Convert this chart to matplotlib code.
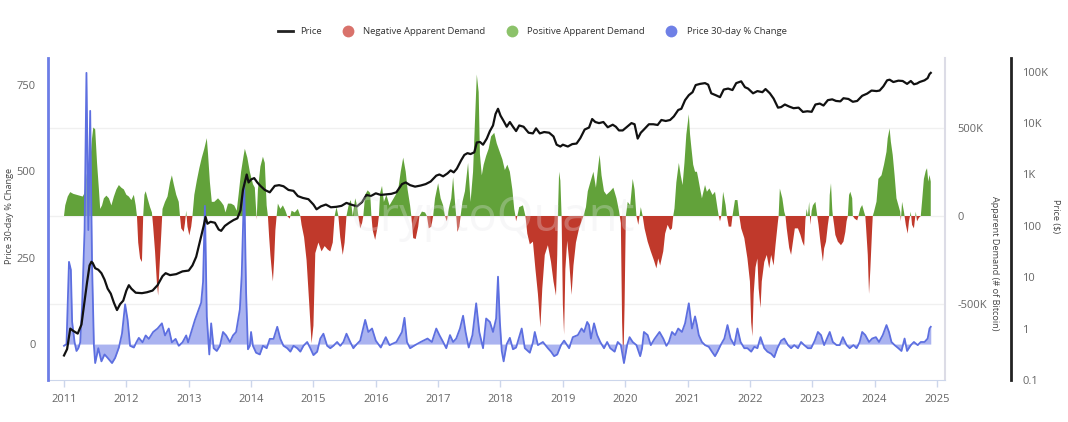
import matplotlib
matplotlib.use("Agg")
import matplotlib.pyplot as plt
from matplotlib.lines import Line2D
import numpy as np

plt.rcParams['font.family'] = ['Open Sans', 'DejaVu Sans']

# ---------------- data (decimal years) ----------------
price_years = [2011.00, 2011.05, 2011.10, 2011.15, 2011.22, 2011.28, 2011.33, 2011.37, 2011.41, 2011.44,
               2011.46, 2011.50, 2011.55, 2011.60, 2011.65, 2011.70, 2011.75, 2011.80, 2011.85, 2011.90,
               2011.95, 2012.00, 2012.04, 2012.08, 2012.15, 2012.25, 2012.33, 2012.42, 2012.50, 2012.58,
               2012.63, 2012.70, 2012.80, 2012.90, 2013.00, 2013.06, 2013.12, 2013.18, 2013.24, 2013.27,
               2013.30, 2013.35, 2013.42, 2013.48, 2013.52, 2013.58, 2013.65, 2013.72, 2013.78, 2013.83,
               2013.87, 2013.93, 2013.96, 2014.00, 2014.05, 2014.10, 2014.15, 2014.22, 2014.30, 2014.38,
               2014.45, 2014.52, 2014.60, 2014.68, 2014.75, 2014.83, 2014.92, 2015.00, 2015.05, 2015.12,
               2015.20, 2015.28, 2015.37, 2015.45, 2015.53, 2015.60, 2015.70, 2015.78, 2015.85, 2015.92,
               2016.00, 2016.08, 2016.17, 2016.25, 2016.33, 2016.42, 2016.48, 2016.55, 2016.63, 2016.72,
               2016.80, 2016.88, 2016.97, 2017.02, 2017.08, 2017.15, 2017.20, 2017.25, 2017.30, 2017.37,
               2017.42, 2017.47, 2017.52, 2017.58, 2017.62, 2017.67, 2017.72, 2017.78, 2017.83, 2017.88,
               2017.92, 2017.96, 2018.00, 2018.05, 2018.10, 2018.15, 2018.20, 2018.25, 2018.30, 2018.37,
               2018.45, 2018.52, 2018.57, 2018.63, 2018.70, 2018.78, 2018.85, 2018.90, 2018.96, 2019.00,
               2019.08, 2019.15, 2019.22, 2019.28, 2019.35, 2019.42, 2019.47, 2019.52, 2019.58, 2019.65,
               2019.72, 2019.80, 2019.85, 2019.90, 2019.96, 2020.03, 2020.10, 2020.15, 2020.20, 2020.25,
               2020.30, 2020.38, 2020.45, 2020.52, 2020.58, 2020.65, 2020.72, 2020.78, 2020.85, 2020.90,
               2020.96, 2021.02, 2021.08, 2021.13, 2021.20, 2021.28, 2021.33, 2021.38, 2021.45, 2021.52,
               2021.58, 2021.65, 2021.72, 2021.78, 2021.86, 2021.92, 2021.97, 2022.05, 2022.12, 2022.20,
               2022.25, 2022.32, 2022.38, 2022.45, 2022.50, 2022.56, 2022.63, 2022.70, 2022.78, 2022.85,
               2022.92, 2022.99, 2023.05, 2023.12, 2023.18, 2023.25, 2023.32, 2023.38, 2023.45, 2023.50,
               2023.58, 2023.65, 2023.72, 2023.80, 2023.88, 2023.95, 2024.03, 2024.08, 2024.14, 2024.20,
               2024.24, 2024.30, 2024.38, 2024.45, 2024.52, 2024.58, 2024.63, 2024.68, 2024.72, 2024.80,
               2024.85, 2024.88, 2024.90]
price_values = [0.30, 0.40, 1.0, 0.9, 0.8, 1.2, 3.5, 8.0, 17, 20,
                19, 15, 14, 12, 9, 6, 4.8, 3.2, 2.3, 3.0,
                3.5, 5.5, 7.0, 6.0, 5.0, 4.9, 5.1, 5.5, 7.0, 10.5,
                12, 11, 11.5, 13, 13.5, 17, 25, 50, 100, 150,
                110, 120, 115, 85, 80, 100, 115, 130, 140, 200,
                500, 1000, 700, 800, 850, 700, 600, 500, 450, 600,
                620, 590, 500, 480, 380, 350, 330, 260, 210, 240,
                260, 230, 235, 245, 280, 260, 240, 290, 400, 380,
                430, 400, 410, 420, 450, 650, 700, 620, 580, 610,
                650, 730, 950, 1000, 920, 1050, 1200, 1100, 1300, 1900,
                2400, 2600, 2500, 2700, 4200, 4300, 3800, 5000, 7000, 9000,
                15000, 19000, 14000, 11000, 8500, 10500, 8500, 7000, 9000, 8500,
                6500, 6300, 7900, 6300, 6700, 6500, 5500, 3800, 3500, 3800,
                3500, 3900, 4000, 5100, 7500, 8200, 12000, 10500, 10000, 10500,
                8300, 9300, 8500, 7200, 7200, 8500, 10000, 9500, 5000, 6500,
                7500, 9500, 9500, 9200, 11500, 11000, 11500, 13500, 18000, 19000,
                28000, 35000, 40000, 55000, 58000, 60000, 56000, 38000, 35000, 32000,
                45000, 47000, 44000, 60000, 65000, 50000, 47000, 38000, 42000, 40000,
                46000, 38000, 30000, 20000, 20500, 23000, 21000, 19500, 20000, 16500,
                17000, 16600, 23000, 24000, 22000, 28000, 29000, 27000, 26500, 30500,
                29500, 26000, 27000, 34000, 37500, 43000, 42000, 43000, 52000, 68000,
                70000, 63000, 67000, 66000, 58000, 66000, 57000, 59000, 63000, 68000,
                75000, 90000, 95000]

demand_years = [2011.00, 2011.02, 2011.06, 2011.10, 2011.15, 2011.20, 2011.25, 2011.30, 2011.33, 2011.36,
                2011.39, 2011.42, 2011.45, 2011.47, 2011.50, 2011.53, 2011.56, 2011.58, 2011.61, 2011.64,
                2011.68, 2011.72, 2011.76, 2011.80, 2011.84, 2011.88, 2011.92, 2011.96, 2012.00, 2012.04,
                2012.08, 2012.12, 2012.15, 2012.17, 2012.19, 2012.22, 2012.25, 2012.27, 2012.29, 2012.31,
                2012.34, 2012.38, 2012.41, 2012.43, 2012.46, 2012.49, 2012.51, 2012.53, 2012.56, 2012.58,
                2012.62, 2012.66, 2012.70, 2012.73, 2012.76, 2012.80, 2012.84, 2012.86, 2012.88, 2012.92,
                2012.94, 2012.96, 2012.98, 2013.01, 2013.04, 2013.06, 2013.09, 2013.13, 2013.17, 2013.21,
                2013.25, 2013.29, 2013.31, 2013.34, 2013.37, 2013.41, 2013.47, 2013.52, 2013.56, 2013.59,
                2013.63, 2013.68, 2013.73, 2013.77, 2013.80, 2013.84, 2013.88, 2013.90, 2013.94, 2013.98,
                2014.03, 2014.06, 2014.09, 2014.11, 2014.15, 2014.19, 2014.22, 2014.25, 2014.27, 2014.29,
                2014.31, 2014.33, 2014.35, 2014.37, 2014.39, 2014.41, 2014.43, 2014.47, 2014.51, 2014.55,
                2014.58, 2014.62, 2014.65, 2014.70, 2014.75, 2014.79, 2014.81, 2014.85, 2014.89, 2014.93,
                2014.97, 2015.00, 2015.03, 2015.08, 2015.13, 2015.18, 2015.23, 2015.27, 2015.31, 2015.34,
                2015.37, 2015.40, 2015.43, 2015.47, 2015.50, 2015.53, 2015.57, 2015.60, 2015.63, 2015.67,
                2015.70, 2015.72, 2015.75, 2015.78, 2015.80, 2015.83, 2015.87, 2015.91, 2015.93, 2015.95,
                2015.99, 2016.03, 2016.05, 2016.07, 2016.10, 2016.13, 2016.17, 2016.22, 2016.27, 2016.32,
                2016.36, 2016.40, 2016.44, 2016.48, 2016.51, 2016.55, 2016.57, 2016.60, 2016.64, 2016.68,
                2016.70, 2016.74, 2016.79, 2016.82, 2016.85, 2016.89, 2016.92, 2016.95, 2017.00, 2017.04,
                2017.08, 2017.11, 2017.14, 2017.17, 2017.21, 2017.24, 2017.27, 2017.29, 2017.31, 2017.34,
                2017.36, 2017.39, 2017.43, 2017.48, 2017.52, 2017.56, 2017.59, 2017.62, 2017.65, 2017.67,
                2017.70, 2017.73, 2017.77, 2017.81, 2017.85, 2017.90, 2017.94, 2017.98, 2018.03, 2018.07,
                2018.11, 2018.15, 2018.19, 2018.22, 2018.24, 2018.25, 2018.27, 2018.30, 2018.36, 2018.40,
                2018.43, 2018.47, 2018.52, 2018.56, 2018.60, 2018.64, 2018.67, 2018.71, 2018.76, 2018.81,
                2018.85, 2018.89, 2018.91, 2018.92, 2018.94, 2018.96, 2018.98, 2019.00, 2019.02, 2019.04,
                2019.07, 2019.10, 2019.14, 2019.17, 2019.21, 2019.26, 2019.30, 2019.33, 2019.37, 2019.40,
                2019.44, 2019.49, 2019.53, 2019.57, 2019.59, 2019.62, 2019.66, 2019.70, 2019.76, 2019.81,
                2019.86, 2019.90, 2019.93, 2019.95, 2019.97, 2019.99, 2020.01, 2020.04, 2020.08, 2020.12,
                2020.15, 2020.18, 2020.21, 2020.23, 2020.25, 2020.28, 2020.31, 2020.36, 2020.41, 2020.46,
                2020.50, 2020.53, 2020.56, 2020.61, 2020.64, 2020.68, 2020.72, 2020.75, 2020.77, 2020.79,
                2020.82, 2020.86, 2020.89, 2020.92, 2020.95, 2020.98, 2021.02, 2021.04, 2021.06, 2021.09,
                2021.12, 2021.15, 2021.17, 2021.20, 2021.23, 2021.28, 2021.31, 2021.35, 2021.40, 2021.44,
                2021.48, 2021.50, 2021.52, 2021.54, 2021.57, 2021.61, 2021.63, 2021.66, 2021.70, 2021.72,
                2021.76, 2021.80, 2021.83, 2021.86, 2021.91, 2021.96, 2022.00, 2022.02, 2022.04, 2022.06,
                2022.09, 2022.12, 2022.14, 2022.17, 2022.19, 2022.23, 2022.27, 2022.31, 2022.34, 2022.38,
                2022.41, 2022.45, 2022.46, 2022.48, 2022.52, 2022.55, 2022.57, 2022.59, 2022.63, 2022.66,
                2022.69, 2022.72, 2022.77, 2022.81, 2022.84, 2022.87, 2022.89, 2022.91, 2022.93, 2022.95,
                2022.97, 2022.99, 2023.01, 2023.05, 2023.08, 2023.10, 2023.13, 2023.17, 2023.19, 2023.22,
                2023.25, 2023.27, 2023.28, 2023.30, 2023.32, 2023.33, 2023.35, 2023.37, 2023.41, 2023.46,
                2023.50, 2023.53, 2023.55, 2023.57, 2023.59, 2023.61, 2023.64, 2023.65, 2023.68, 2023.72,
                2023.74, 2023.77, 2023.80, 2023.83, 2023.85, 2023.86, 2023.89, 2023.91, 2023.93, 2023.96,
                2023.97, 2023.99, 2024.03, 2024.06, 2024.11, 2024.15, 2024.19, 2024.21, 2024.24, 2024.26,
                2024.29, 2024.32, 2024.35, 2024.38, 2024.41, 2024.42, 2024.44, 2024.47, 2024.50, 2024.53,
                2024.55, 2024.58, 2024.60, 2024.63, 2024.66, 2024.68, 2024.71, 2024.74, 2024.76, 2024.79,
                2024.82, 2024.84, 2024.86, 2024.88, 2024.90]
demand_values = [0, 60, 110, 135, 125, 120, 115, 110, 130, 230,
                 270, 300, 440, 500, 490, 300, 150, 40, 60, 100,
                 115, 100, 60, 110, 150, 175, 160, 150, 120, 110,
                 90, 120, 60, 0, -150, -240, -260, 0, 120, 140,
                 100, 50, 20, -60, -200, -380, -450, -300, -100, 40,
                 80, 110, 190, 230, 180, 120, 80, 0, -70, -90,
                 -40, 30, -60, -110, -60, 0, 120, 200, 270, 330,
                 380, 440, 350, 190, 80, 80, 100, 80, 60, 20,
                 70, 70, 60, 30, 120, 250, 340, 380, 330, 250,
                 180, 160, -20, 150, 280, 335, 300, 60, 0, -120,
                 -220, -300, -370, -250, -80, 0, 70, 40, 60, 30,
                 0, -15, 30, 20, 40, 0, -50, -120, -250, -480,
                 -720, -620, -210, -150, -200, -170, -190, -200, -150, 0,
                 50, 0, -120, -220, -150, 0, 70, 90, 0, 100,
                 60, 0, -70, -40, 0, 120, 145, 130, 0, -80,
                 -135, -60, 0, 130, 170, 80, 120, 60, 90, 120,
                 150, 250, 330, 250, 150, 60, 0, -125, -130, -60,
                 0, 25, 20, 0, -70, -60, 0, 100, 185, 100,
                 60, 0, -30, 40, 100, 220, 80, 0, -90, -60,
                 0, 80, 140, 300, 80, 250, 530, 800, 700, 350,
                 230, 290, 340, 380, 450, 470, 410, 370, 320, 260,
                 290, 250, 150, 40, 0, -30, 0, 50, 60, 0,
                 -100, -160, -145, -300, -440, -630, -410, -220, -165, -260,
                 -370, -450, -220, 0, 250, 200, 0, -500, -670, -300,
                 -140, -250, -446, -280, -150, -70, -30, 0, 50, 140,
                 190, 250, 160, 290, 345, 230, 140, 120, 140, 160,
                 100, 30, -40, -600, -840, -500, 0, 80, 60, 210,
                 150, 0, -50, 0, 50, 0, -70, -145, -200, -250,
                 -296, -240, -280, -200, -100, -50, -80, -70, 0, 43,
                 190, 300, 230, 175, 300, 460, 575, 460, 390, 290,
                 250, 250, 215, 156, 100, 175, 137, 156, 119, 137,
                 43, 0, -30, 0, 137, 62, 0, -60, -60, 0,
                 90, 90, 0, -70, -125, -240, -370, -600, -680, -440,
                 -290, -240, -410, -520, -370, -260, -220, -296, -220, -280,
                 -165, -30, 0, 155, 100, 25, 0, -70, -180, -220,
                 -145, -70, -70, -107, -145, -170, -20, 40, 0, 80,
                 -50, 30, 60, 80, 0, -50, -145, -258, -183, -145,
                 -50, 0, 119, 185, 40, 0, -50, -107, -145, -165,
                 -145, -90, -30, 0, 119, 137, 100, 0, -15, -25,
                 0, 43, 62, 24, 0, -50, -220, -440, -310, -70,
                 0, 24, 81, 210, 230, 290, 363, 440, 495, 420,
                 345, 230, 100, 62, 24, -30, 80, 24, -50, -100,
                 -30, 24, -50, -70, 24, -30, -10, 0, 81, 210,
                 255, 270, 194, 232, 194]

pct_years = [2011.00, 2011.04, 2011.08, 2011.11, 2011.13, 2011.17, 2011.20, 2011.23, 2011.26, 2011.29,
             2011.33, 2011.36, 2011.39, 2011.42, 2011.45, 2011.48, 2011.50, 2011.55, 2011.60, 2011.65,
             2011.70, 2011.77, 2011.82, 2011.88, 2011.93, 2011.98, 2012.02, 2012.06, 2012.12, 2012.16,
             2012.20, 2012.26, 2012.31, 2012.36, 2012.43, 2012.50, 2012.57, 2012.62, 2012.68, 2012.73,
             2012.79, 2012.84, 2012.90, 2012.96, 2012.99, 2013.04, 2013.10, 2013.15, 2013.20, 2013.23,
             2013.26, 2013.29, 2013.33, 2013.36, 2013.40, 2013.45, 2013.50, 2013.55, 2013.60, 2013.66,
             2013.71, 2013.76, 2013.82, 2013.85, 2013.89, 2013.92, 2013.95, 2013.98, 2014.00, 2014.03,
             2014.08, 2014.14, 2014.19, 2014.25, 2014.30, 2014.36, 2014.42, 2014.47, 2014.52, 2014.58,
             2014.63, 2014.68, 2014.74, 2014.79, 2014.84, 2014.90, 2014.95, 2015.00, 2015.06, 2015.11,
             2015.16, 2015.22, 2015.27, 2015.32, 2015.38, 2015.43, 2015.48, 2015.53, 2015.59, 2015.64,
             2015.67, 2015.75, 2015.83, 2015.88, 2015.94, 2016.00, 2016.08, 2016.16, 2016.22, 2016.33,
             2016.42, 2016.46, 2016.50, 2016.55, 2016.63, 2016.72, 2016.83, 2016.90, 2016.97, 2017.02,
             2017.08, 2017.13, 2017.19, 2017.24, 2017.29, 2017.35, 2017.40, 2017.44, 2017.49, 2017.55,
             2017.61, 2017.66, 2017.72, 2017.77, 2017.83, 2017.88, 2017.93, 2017.96, 2017.99, 2018.02,
             2018.05, 2018.10, 2018.15, 2018.20, 2018.25, 2018.34, 2018.39, 2018.47, 2018.52, 2018.55,
             2018.60, 2018.68, 2018.76, 2018.81, 2018.86, 2018.91, 2018.97, 2019.02, 2019.10, 2019.16,
             2019.24, 2019.30, 2019.34, 2019.39, 2019.42, 2019.45, 2019.50, 2019.55, 2019.60, 2019.66,
             2019.71, 2019.76, 2019.83, 2019.88, 2019.93, 2019.98, 2020.03, 2020.07, 2020.12, 2020.18,
             2020.24, 2020.27, 2020.30, 2020.36, 2020.41, 2020.47, 2020.55, 2020.61, 2020.66, 2020.70,
             2020.75, 2020.80, 2020.85, 2020.91, 2020.96, 2021.02, 2021.05, 2021.07, 2021.12, 2021.15,
             2021.18, 2021.23, 2021.28, 2021.34, 2021.39, 2021.44, 2021.48, 2021.53, 2021.59, 2021.64,
             2021.69, 2021.75, 2021.80, 2021.85, 2021.91, 2021.96, 2022.02, 2022.07, 2022.12, 2022.17,
             2022.23, 2022.28, 2022.34, 2022.39, 2022.44, 2022.50, 2022.55, 2022.61, 2022.66, 2022.71,
             2022.77, 2022.82, 2022.87, 2022.93, 2022.98, 2023.04, 2023.09, 2023.14, 2023.19, 2023.28,
             2023.33, 2023.39, 2023.44, 2023.49, 2023.55, 2023.60, 2023.66, 2023.71, 2023.76, 2023.80,
             2023.85, 2023.91, 2023.96, 2024.02, 2024.07, 2024.13, 2024.19, 2024.23, 2024.27, 2024.32,
             2024.38, 2024.43, 2024.48, 2024.52, 2024.58, 2024.63, 2024.69, 2024.74, 2024.80, 2024.85,
             2024.88, 2024.90]
pct_values = [-5, 0, 238, 215, 65, 5, -20, -12, 5, 110,
              330, 785, 330, 675, 230, -5, -55, -12, -50, -30,
              -40, -55, -40, -10, 30, 115, 70, -5, -10, 5,
              18, 5, 25, 15, 35, 45, 60, 25, 45, 5,
              15, -5, 5, 25, 5, 35, 70, 95, 120, 180,
              400, 80, -30, 60, -12, -20, -5, 35, 25, 6,
              25, 35, 100, 200, 465, 150, -15, -5, 35, -5,
              -25, -30, -5, -12, 15, 15, 50, 15, -5, -12,
              -22, -5, -12, -22, -5, 6, -12, -32, -22, 16,
              30, -5, -12, -5, 6, -5, 6, 30, 6, -12,
              -5, 10, 70, 35, 45, 10, -10, 20, -3, 6,
              35, 76, 6, -12, -3, 6, 16, 6, 45, 26,
              6, -12, 26, 6, 16, 45, 82, 35, -10, 26,
              118, 35, -12, 74, 64, 35, 74, 195, 64, -20,
              -50, 0, 18, -15, -10, 45, -12, -25, 5, 35,
              -3, 6, -12, -22, -35, -30, -3, 10, -12, 20,
              26, 45, 35, 64, 55, 16, 60, 26, 6, -12,
              6, -12, -22, 6, -3, -55, -3, 20, 6, -3,
              -35, -12, 35, 26, -3, 15, 35, 16, -5, 6,
              35, 26, 45, 35, 60, 118, 74, 45, 80, 55,
              26, 6, -3, -8, -22, -35, -22, -3, 16, 55,
              16, -3, 45, 6, -12, -12, -22, -8, -12, 20,
              -12, -22, -28, -38, -12, 10, 16, -3, -12, -3,
              -12, 6, -3, -12, -12, 10, 35, 26, -3, 35,
              6, -3, -3, 20, -3, -12, -3, -12, 6, 35,
              26, 6, 16, 20, 6, 26, 55, 35, 6, -3,
              -12, -20, 16, -20, -3, 6, -3, 6, 6, 16,
              45, 50]

year_ticks = list(range(2011, 2026))
pct_ticks = [0, 250, 500, 750]
demand_ticks = [-500, 0, 500]
demand_tick_labels = ["-500K", "0", "500K"]
price_ticks = [0.1, 1, 10, 100, 1000, 10000, 100000]
price_tick_labels = ["0.1", "1", "10", "100", "1K", "10K", "100K"]

# ---------------- styles ----------------
GREEN = "#62a23a"
RED = "#c0392b"
BLUE = "#5d6fe0"
BLUE_FILL = "#8e9aec"
TICK_COL = "#666666"
AXIS_GRAY = "#ccd6eb"

W, H = 1068, 422
PX = 72 / 100  # points per pixel
fig = plt.figure(figsize=(W / 100, H / 100), dpi=100)
L, R, T, B = 48, 945, 58, 380
rect = [L / W, 1 - B / H, (R - L) / W, (B - T) / H]

ax_d = fig.add_axes(rect)
ax_pct = ax_d.twinx()
ax_price = ax_d.twinx()

xpx = 62.36
ax_d.set_xlim(2011 - 16 / xpx, 2025 + 8 / xpx)

# demand
dy = np.array(demand_years)
dv = np.array(demand_values, dtype=float)
ax_d.fill_between(dy, 0, dv, where=dv >= 0, interpolate=True, color=GREEN, lw=0, zorder=2)
ax_d.fill_between(dy, 0, dv, where=dv <= 0, interpolate=True, color=RED, lw=0, zorder=2)
ax_d.set_ylim(-927, 893)
ax_d.yaxis.tick_right()
ax_d.set_yticks(demand_ticks)
ax_d.set_yticklabels(demand_tick_labels)
ax_d.grid(axis='y', color='#f0f0f0', lw=1, zorder=0)
ax_d.set_axisbelow(True)

# pct change
ax_pct.fill_between(pct_years, 0, pct_values, color=BLUE_FILL, alpha=0.75, lw=0, zorder=3)
ax_pct.plot(pct_years, pct_values, color=BLUE, lw=1.3, zorder=4)
ax_pct.set_ylim(-104, 828)
ax_pct.yaxis.set_ticks_position('left')
ax_pct.set_yticks(pct_ticks)
ax_pct.set_yticklabels([str(v) for v in pct_ticks])

# price
ax_price.plot(price_years, price_values, color='#111111', lw=1.6, zorder=5)
ax_price.set_yscale('log')
ax_price.set_ylim(0.1, 185000)
ax_price.set_yticks(price_ticks)
ax_price.set_yticklabels(price_tick_labels)
ax_price.yaxis.set_minor_locator(matplotlib.ticker.NullLocator())

# spines
for a in (ax_d, ax_pct, ax_price):
    for s in a.spines.values():
        s.set_visible(False)
ax_d.spines['bottom'].set_visible(True)
ax_d.spines['bottom'].set_color(AXIS_GRAY)
ax_d.spines['right'].set_visible(True)
ax_d.spines['right'].set_color('#dcdce6')
ax_d.spines['right'].set_linewidth(1.5)
ax_pct.spines['left'].set_visible(True)
ax_pct.spines['left'].set_color('#6c7de6')
ax_pct.spines['left'].set_linewidth(2)
ax_price.spines['right'].set_visible(True)
ax_price.spines['right'].set_position(('outward', 66 * PX))
ax_price.spines['right'].set_color('#222222')
ax_price.spines['right'].set_linewidth(2)

# ticks
ax_d.set_xticks(year_ticks)
ax_d.set_xticklabels([str(y) for y in year_ticks])
ax_d.tick_params(axis='x', colors=AXIS_GRAY, length=5, width=1, labelcolor=TICK_COL, labelsize=8, pad=5)
ax_d.tick_params(axis='y', length=0, labelcolor=TICK_COL, labelsize=8, pad=9)
ax_pct.tick_params(axis='y', length=0, labelcolor=TICK_COL, labelsize=8, pad=9)
ax_price.tick_params(axis='y', length=0, labelcolor=TICK_COL, labelsize=8, pad=8)

# axis titles
fig.text(10 / W, 1 - 216 / H, "Price 30-day % Change", rotation=90, ha='center', va='center',
         fontsize=6.6, color='#444444')
fig.text(995 / W, 1 - 263 / H, "Apparent Demand (# of Bitcoin)", rotation=270, ha='center', va='center',
         fontsize=6.6, color='#444444')
fig.text(1055 / W, 1 - 216 / H, "Price ($)", rotation=270, ha='center', va='center',
         fontsize=6.6, color='#444444')

# watermark
fig.text(492 / W, 1 - 218 / H, "CryptoQuant", ha='center', va='center', fontsize=34,
         color='#e6e6ea', alpha=0.3, zorder=10)

# legend
handles = [Line2D([0], [0], color='#222222', lw=2),
           Line2D([0], [0], marker='o', color='none', markerfacecolor='#d9726b', markeredgecolor='none', markersize=8.5),
           Line2D([0], [0], marker='o', color='none', markerfacecolor='#8cc26a', markeredgecolor='none', markersize=8.5),
           Line2D([0], [0], marker='o', color='none', markerfacecolor='#6f80e6', markeredgecolor='none', markersize=8.5)]
labels = ["Price", "Negative Apparent Demand", "Positive Apparent Demand", "Price 30-day % Change"]
fig.legend(handles, labels, loc='center', bbox_to_anchor=(532 / W, 1 - 32 / H), ncol=4, frameon=False,
           fontsize=6.8, handlelength=1.6, handletextpad=0.8, columnspacing=2.0, labelcolor='#333333')

fig.savefig("out.png", dpi=100, facecolor='white')
